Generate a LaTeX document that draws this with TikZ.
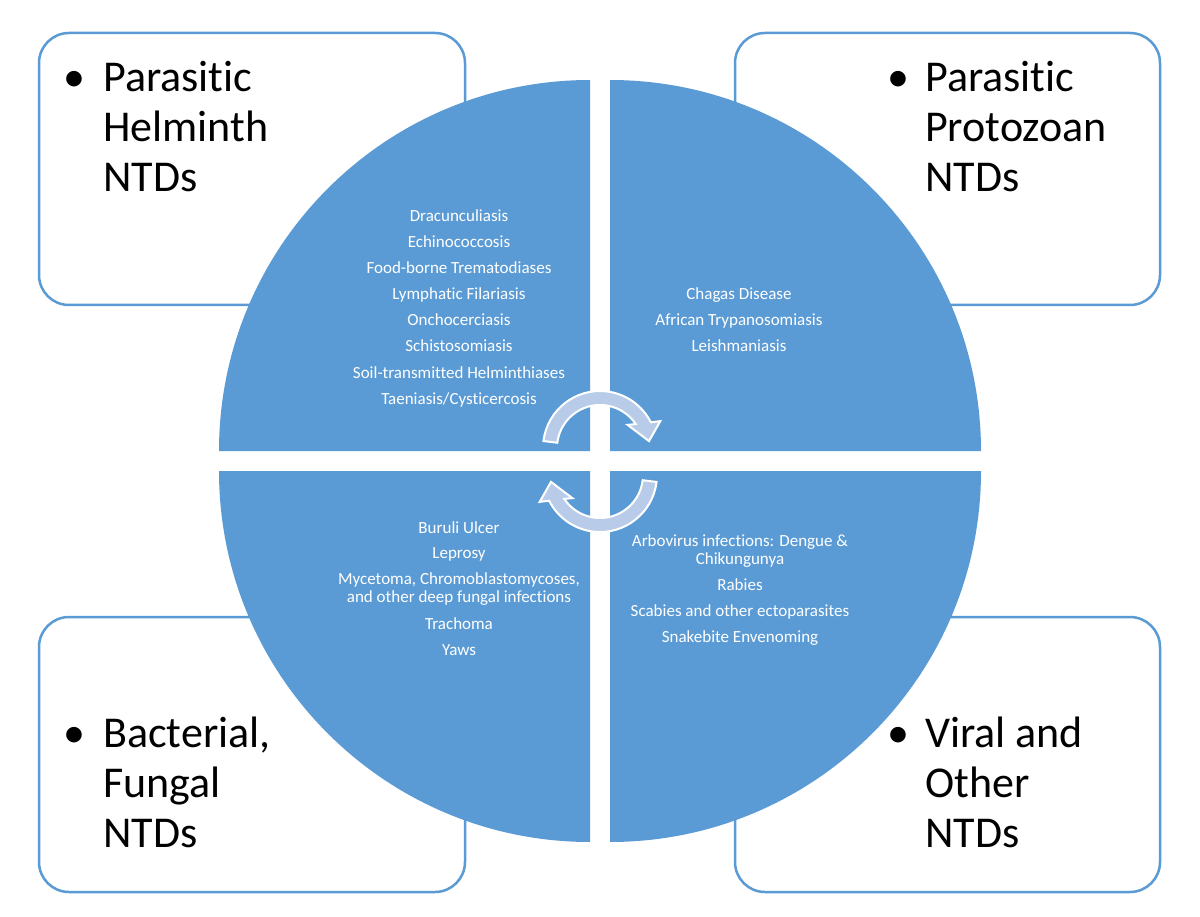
\documentclass[tikz,border=0pt]{standalone}
\usepackage{fontspec}
\setmainfont[Ligatures=NoCommon]{Carlito}
\definecolor{qblue}{HTML}{5B9BD5}
\definecolor{arrowfill}{HTML}{B8CCE9}
\begin{document}
\begin{tikzpicture}[x=1pt,y=-1pt,
  box/.style={draw=qblue, line width=2.5pt, fill=white, rounded corners=30pt},
  quad/.style={fill=qblue},
  big/.style={font=\fontsize{44}{50}\selectfont, anchor=base west, inner sep=0pt, text=black},
  bul/.style={font=\fontsize{44}{50}\selectfont, anchor=base, inner sep=0pt, text=black},
  small/.style={font=\fontsize{17}{19}\selectfont, anchor=base, inner sep=0pt, text=white},
  carrow/.style={fill=arrowfill, draw=white, line width=2pt, line join=miter}]
\useasboundingbox (0,0) rectangle (1200,917);
\fill[white] (0,0) rectangle (1200,917);

% corner boxes
\draw[box] (39,33) rectangle (465,305);
\draw[box] (735,33) rectangle (1160,305);
\draw[box] (39,617) rectangle (465,892);
\draw[box] (735,617) rectangle (1160,892);

% box texts
\node[bul] (b1) at (74,92) {•};
\node[big] (t1a) at (103,92) {Parasitic};
\node[big] (t1b) at (103,142) {Helminth};
\node[big] (t1c) at (103,192) {NTDs};

\node[bul] (b2) at (898,92) {•};
\node[big] (t2a) at (925,92) {Parasitic};
\node[big] (t2b) at (925,142) {Protozoan};
\node[big] (t2c) at (925,192) {NTDs};

\node[bul] (b3) at (74,747) {•};
\node[big] (t3a) at (103,747) {Bacterial,};
\node[big] (t3b) at (103,797) {Fungal};
\node[big] (t3c) at (103,847) {NTDs};

\node[bul] (b4) at (898,747) {•};
\node[big] (t4a) at (925,747) {Viral and};
\node[big] (t4b) at (925,797) {Other};
\node[big] (t4c) at (925,847) {NTDs};

% quadrants
\fill[quad] (590,451) -- ++(-371pt,0pt) arc[start angle=180,end angle=90,radius=371pt] -- cycle;
\fill[quad] (610,451) -- ++(0pt,371pt) arc[start angle=90,end angle=0,radius=371pt] -- cycle;
\fill[quad] (590,471) -- ++(-371pt,0pt) arc[start angle=180,end angle=270,radius=371pt] -- cycle;
\fill[quad] (610,471) -- ++(371pt,0pt) arc[start angle=0,end angle=-90,radius=371pt] -- cycle;

% quadrant lists
\foreach \t [count=\i from 0] in {Dracunculiasis, Echinococcosis, Food-borne Trematodiases, Lymphatic Filariasis, Onchocerciasis, Schistosomiasis, Soil-transmitted Helminthiases, Taeniasis/Cysticercosis}
  \node[small] (h\i) at (459,{222+26*\i}) {\t};

\foreach \t [count=\i from 0] in {Chagas Disease, African Trypanosomiasis, Leishmaniasis}
  \node[small] (p\i) at (739,{300+26*\i}) {\t};

\node[small] (f0) at (459,533) {Buruli Ulcer};
\node[small] (f1) at (459,558) {Leprosy};
\node[small] (f2) at (459,584) {Mycetoma, Chromoblastomycoses,};
\node[small] (f3) at (459,602) {and other deep fungal infections};
\node[small] (f4) at (459,629) {Trachoma};
\node[small] (f5) at (459,655) {Yaws};

\node[small] (v0) at (740,546) {Arbovirus infections: Dengue \&};
\node[small] (v1) at (740,564) {Chikungunya};
\node[small] (v2) at (740,590) {Rabies};
\node[small] (v3) at (740,616) {Scabies and other ectoparasites};
\node[small] (v4) at (740,642) {Snakebite Envenoming};

% circular arrows
\begin{scope}[shift={(600,448)}]
\draw[carrow] (173:57pt) arc[start angle=173,end angle=26.8,radius=57pt]
  -- (24:66pt) -- (8:49.5pt) -- (40:36pt) -- (33.8:43pt)
  arc[start angle=33.8,end angle=173,radius=43pt] -- cycle;
\end{scope}
\begin{scope}[shift={(600,475)}, rotate=180]
\draw[carrow] (173:57pt) arc[start angle=173,end angle=26.8,radius=57pt]
  -- (24:66pt) -- (8:49.5pt) -- (40:36pt) -- (33.8:43pt)
  arc[start angle=33.8,end angle=173,radius=43pt] -- cycle;
\end{scope}
\end{tikzpicture}
\end{document}
